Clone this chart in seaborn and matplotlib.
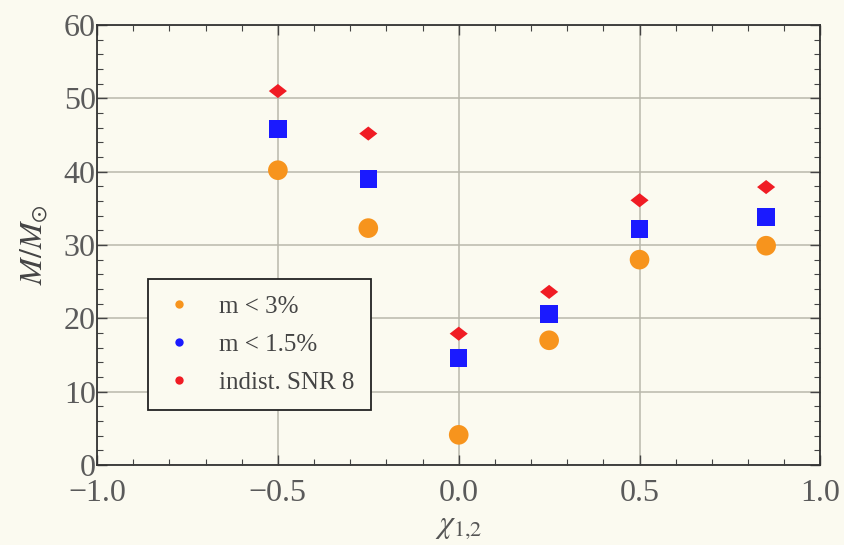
import numpy as np
import pandas as pd
import seaborn as sns
import matplotlib.pyplot as plt
from matplotlib.lines import Line2D
from matplotlib.path import Path
from matplotlib.ticker import MultipleLocator

# Spin values and mass thresholds for each criterion
chi = [-0.5, -0.25, 0.0, 0.25, 0.5, 0.85]
mass_mismatch_3 = [40.2, 32.3, 4.1, 17.0, 28.0, 29.9]
mass_mismatch_15 = [45.8, 39.0, 14.6, 20.6, 32.2, 33.8]
mass_indist_snr8 = [51.0, 45.2, 17.9, 23.6, 36.1, 37.9]
labels = ["m < 3%", "m < 1.5%", "indist. SNR 8"]
colors = ["#f7941d", "#1a1aff", "#f01c24"]

df = pd.DataFrame({
    "chi": chi * 3,
    "mass": mass_mismatch_3 + mass_mismatch_15 + mass_indist_snr8,
    "crit": sum([[l] * len(chi) for l in labels], []),
})

sns.set_theme(style="white")
plt.rcParams["font.family"] = ["Liberation Serif", "DejaVu Serif"]
plt.rcParams["mathtext.fontset"] = "stix"

bg = "#fbfaf0"
fig = plt.figure(figsize=(8.44, 5.45), dpi=100, facecolor=bg)
ax = fig.add_axes([0.115, 0.147, 0.857, 0.807])
ax.set_facecolor(bg)

wide_diamond = Path([(-1, 0), (0, 0.78), (1, 0), (0, -0.78), (-1, 0)],
                    [Path.MOVETO, Path.LINETO, Path.LINETO, Path.LINETO, Path.CLOSEPOLY])
markers = {labels[0]: "o", labels[1]: "s", labels[2]: wide_diamond}
sizes = {labels[0]: 200, labels[1]: 160, labels[2]: 170}

for lab, col in zip(labels, colors):
    sub = df[df["crit"] == lab]
    sns.scatterplot(data=sub, x="chi", y="mass", color=col, marker=markers[lab],
                    s=sizes[lab], edgecolor="none", ax=ax, legend=False, zorder=3)

ax.set_xlim(-1, 1)
ax.set_ylim(0, 60)
ax.xaxis.set_major_locator(MultipleLocator(0.5))
ax.xaxis.set_minor_locator(MultipleLocator(0.1))
ax.yaxis.set_major_locator(MultipleLocator(10))
ax.yaxis.set_minor_locator(MultipleLocator(2))
ax.set_xticklabels([f"{v:.1f}".replace("-", "\u2212") for v in ax.get_xticks()])

ax.grid(True, which="major", color="#b9b8ac", linewidth=1.1)
for sp in ax.spines.values():
    sp.set_color("#333333")
    sp.set_linewidth(1.3)
ax.tick_params(which="both", direction="in", top=True, right=True,
               bottom=True, left=True, colors="#444444", labelcolor="#5a5a5a",
               labelsize=23)
ax.tick_params(which="major", length=7, width=1.0)
ax.tick_params(which="minor", length=4, width=0.8)
ax.tick_params(axis="x", pad=10)
ax.tick_params(axis="y", pad=1)

ax.set_xlabel(r"$\chi_{1{,}2}$", fontsize=23, color="#555555", labelpad=3)
ax.set_ylabel(r"$M/M_{\odot}$", fontsize=23, color="#444444", labelpad=10)

handles = [Line2D([], [], linestyle="none", marker="o", markersize=6,
                  markerfacecolor=c, markeredgecolor="none") for c in colors]
leg = ax.legend(handles, labels, loc="lower left", bbox_to_anchor=(0.0705, 0.125),
                borderaxespad=0, frameon=True, fancybox=False, fontsize=18,
                handletextpad=1.0, borderpad=0.65, labelspacing=0.62,
                handlelength=1.2)
leg.get_frame().set_edgecolor("#222222")
leg.get_frame().set_linewidth(1.3)
leg.get_frame().set_facecolor(bg)
leg.get_frame().set_alpha(1)
for t in leg.get_texts():
    t.set_color("#444444")

fig.savefig("out.png", dpi=100, facecolor=bg)
